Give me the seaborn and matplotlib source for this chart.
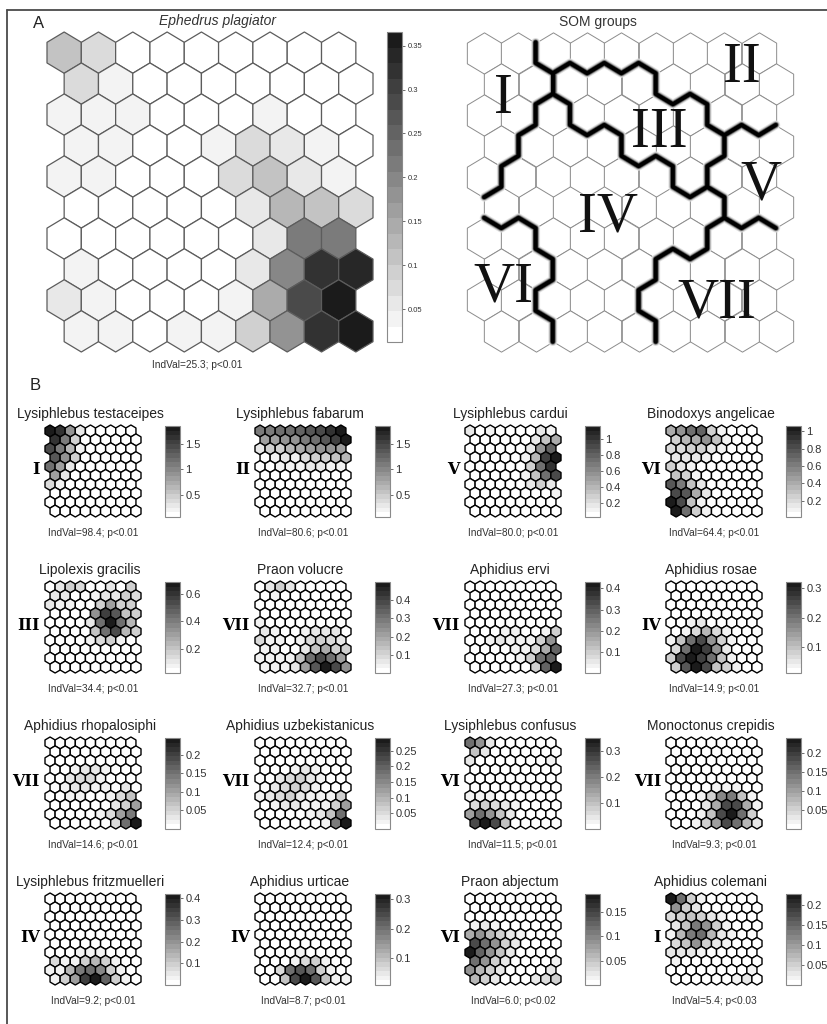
import numpy as np
import pandas as pd
import matplotlib
matplotlib.use("Agg")
import matplotlib.pyplot as plt
from matplotlib.colors import ListedColormap, Normalize
from matplotlib.cm import ScalarMappable
from matplotlib.collections import LineCollection
from matplotlib.lines import Line2D
from matplotlib.path import Path
from matplotlib.markers import MarkerStyle
import seaborn as sns

# ---------------------------------------------------------------- data
# SOM component planes: 10 rows x 9 columns of hexagonal units (odd rows shifted right)

ephedrus_plagiator = [
    [0.11, 0.067, 0, 0, 0, 0, 0, 0, 0],
    [0.08, 0.04, 0, 0, 0, 0, 0, 0, 0],
    [0.04, 0.04, 0.035, 0, 0, 0, 0.035, 0, 0],
    [0.04, 0.04, 0, 0, 0.035, 0.074, 0.061, 0.035, 0],
    [0.04, 0.035, 0, 0, 0, 0.08, 0.105, 0.055, 0.04],
    [0, 0, 0, 0, 0, 0.061, 0.124, 0.105, 0.08],
    [0, 0, 0, 0, 0, 0, 0.048, 0.212, 0.219],
    [0.04, 0, 0, 0, 0, 0.055, 0.193, 0.313, 0.339],
    [0.061, 0.04, 0, 0, 0, 0.04, 0.137, 0.288, 0.36],
    [0.04, 0.035, 0, 0.035, 0.04, 0.086, 0.173, 0.313, 0.36],
]
ephedrus_range = (0.0125, 0.3656)
ephedrus_ticks = [0.05, 0.1, 0.15, 0.2, 0.25, 0.3, 0.35]
ephedrus_indval = "IndVal=25.3; p<0.01"

som_groups = [
    ["I", "I", "II", "II", "II", "II", "II", "II", "II"],
    ["I", "I", "III", "III", "III", "II", "II", "II", "II"],
    ["I", "I", "IV", "III", "III", "III", "III", "II", "II"],
    ["I", "IV", "IV", "IV", "III", "III", "III", "V", "V"],
    ["I", "IV", "IV", "IV", "IV", "IV", "III", "V", "V"],
    ["IV", "IV", "IV", "IV", "IV", "IV", "IV", "V", "V"],
    ["VI", "VI", "IV", "IV", "IV", "IV", "IV", "VII", "VII"],
    ["VI", "VI", "IV", "IV", "IV", "VII", "VII", "VII", "VII"],
    ["VI", "VI", "IV", "IV", "IV", "VII", "VII", "VII", "VII"],
    ["VI", "VI", "IV", "IV", "IV", "VII", "VII", "VII", "VII"],
]
group_names = ["I", "II", "III", "IV", "V", "VI", "VII"]

lysiphlebus_testaceipes = [
    [1.80, 1.62, 0.94, 0.31, 0, 0, 0, 0, 0],
    [1.62, 1.07, 0.49, 0, 0, 0, 0, 0, 0],
    [1.45, 1.12, 0.69, 0.24, 0, 0, 0, 0, 0],
    [1.32, 0.94, 0.43, 0, 0, 0, 0, 0, 0],
    [1.19, 0.81, 0.31, 0, 0, 0, 0, 0, 0],
    [0.81, 0.31, 0, 0, 0, 0, 0, 0, 0],
    [0.37, 0.20, 0, 0, 0, 0, 0, 0, 0],
    [0, 0, 0, 0, 0, 0, 0, 0, 0],
    [0, 0, 0, 0, 0, 0, 0, 0, 0],
    [0, 0, 0, 0, 0, 0, 0, 0, 0],
]
lysiphlebus_fabarum = [
    [1.14, 1.14, 1.21, 1.21, 1.26, 1.33, 1.45, 1.61, 1.80],
    [0.81, 0.81, 0.94, 0.94, 1.07, 1.19, 1.32, 1.58, 1.80],
    [0.31, 0.43, 0.49, 0.63, 0.75, 0.81, 0.94, 0.94, 0.81],
    [0, 0.20, 0.31, 0.24, 0.37, 0.43, 0.49, 0.56, 0.69],
    [0, 0, 0.18, 0.21, 0.24, 0.31, 0.31, 0.24, 0.20],
    [0, 0, 0, 0, 0, 0, 0, 0, 0],
    [0, 0, 0, 0, 0, 0, 0, 0, 0],
    [0, 0, 0, 0, 0, 0, 0, 0, 0],
    [0, 0, 0, 0, 0, 0, 0, 0, 0],
    [0, 0, 0, 0, 0, 0, 0, 0, 0],
]
lysiphlebus_cardui = [
    [0.18, 0, 0.09, 0, 0, 0, 0, 0.14, 0.11],
    [0, 0, 0, 0, 0, 0, 0.14, 0.34, 0.45],
    [0, 0, 0, 0, 0, 0, 0.18, 0.58, 0.82],
    [0, 0, 0, 0, 0, 0.09, 0.42, 0.94, 1.15],
    [0, 0, 0, 0, 0, 0, 0.26, 0.74, 1.01],
    [0, 0, 0, 0, 0, 0.09, 0.34, 0.74, 0.91],
    [0, 0, 0, 0, 0, 0, 0.14, 0.26, 0.14],
    [0, 0, 0, 0, 0, 0, 0, 0, 0.11],
    [0, 0, 0, 0, 0, 0, 0, 0, 0],
    [0, 0, 0, 0, 0, 0, 0, 0, 0],
]
binodoxys_angelicae = [
    [0.40, 0.52, 0.67, 0.70, 0.23, 0.09, 0, 0, 0],
    [0.23, 0.33, 0.40, 0.52, 0.30, 0.08, 0, 0, 0],
    [0.19, 0.19, 0.23, 0.26, 0.16, 0.08, 0, 0, 0],
    [0.16, 0.16, 0.12, 0.08, 0, 0, 0, 0, 0],
    [0.23, 0.16, 0.08, 0, 0, 0, 0, 0, 0],
    [0.30, 0.23, 0.09, 0, 0, 0, 0, 0, 0],
    [0.75, 0.60, 0.30, 0.12, 0, 0, 0, 0, 0],
    [0.82, 0.75, 0.38, 0.12, 0, 0, 0, 0, 0],
    [1.05, 0.82, 0.30, 0.09, 0, 0, 0, 0, 0],
    [1.05, 0.67, 0.26, 0.08, 0, 0, 0, 0, 0],
]
lipolexis_gracilis = [
    [0, 0.09, 0.18, 0.13, 0, 0, 0.09, 0, 0.16],
    [0.11, 0.09, 0, 0, 0.07, 0.09, 0.11, 0.18, 0.13],
    [0.09, 0.07, 0.07, 0, 0, 0.16, 0.30, 0.18, 0.18],
    [0, 0, 0, 0, 0.35, 0.56, 0.49, 0.21, 0.16],
    [0, 0, 0, 0, 0.11, 0.44, 0.69, 0.44, 0.25],
    [0, 0, 0, 0, 0.21, 0.44, 0.54, 0.25, 0.16],
    [0, 0, 0, 0, 0.07, 0.13, 0.16, 0.07, 0],
    [0, 0, 0, 0, 0, 0, 0, 0, 0],
    [0, 0, 0, 0, 0, 0, 0, 0, 0],
    [0, 0, 0, 0, 0, 0, 0, 0, 0],
]
praon_volucre = [
    [0, 0.05, 0.10, 0.07, 0, 0, 0, 0, 0],
    [0, 0.03, 0, 0, 0, 0, 0, 0, 0],
    [0, 0, 0, 0, 0, 0, 0, 0, 0],
    [0, 0, 0, 0, 0, 0, 0, 0, 0],
    [0.04, 0, 0, 0, 0, 0, 0, 0, 0],
    [0.05, 0.04, 0, 0, 0.04, 0.05, 0.07, 0.05, 0],
    [0.085, 0.04, 0.04, 0, 0.04, 0.085, 0.10, 0.085, 0.07],
    [0.04, 0.03, 0, 0, 0.07, 0.14, 0.175, 0.12, 0.10],
    [0.04, 0.04, 0.03, 0.03, 0.14, 0.31, 0.385, 0.31, 0.21],
    [0.04, 0.03, 0.03, 0.05, 0.21, 0.35, 0.48, 0.385, 0.245],
]
aphidius_ervi = [
    [0, 0, 0, 0, 0, 0, 0, 0, 0],
    [0, 0, 0, 0, 0, 0, 0, 0, 0],
    [0, 0, 0, 0, 0, 0, 0, 0, 0],
    [0, 0, 0, 0, 0, 0, 0, 0, 0],
    [0, 0, 0, 0, 0, 0, 0, 0, 0],
    [0, 0, 0, 0.03, 0.03, 0, 0, 0.04, 0.10],
    [0, 0, 0.03, 0.06, 0.03, 0.04, 0.04, 0.10, 0.21],
    [0, 0, 0, 0.02, 0.03, 0.04, 0.07, 0.16, 0.30],
    [0, 0, 0, 0, 0.02, 0.03, 0.09, 0.27, 0.29],
    [0, 0, 0, 0, 0, 0.02, 0.09, 0.30, 0.43],
]
aphidius_rosae = [
    [0, 0, 0, 0, 0, 0, 0, 0, 0],
    [0, 0, 0, 0, 0, 0, 0, 0, 0],
    [0, 0, 0, 0, 0, 0, 0, 0, 0],
    [0, 0, 0, 0, 0, 0, 0, 0, 0],
    [0, 0, 0.033, 0.044, 0, 0, 0, 0, 0],
    [0, 0.036, 0.065, 0.12, 0.065, 0.036, 0, 0, 0],
    [0.036, 0.10, 0.206, 0.25, 0.163, 0.077, 0.036, 0, 0],
    [0.065, 0.206, 0.32, 0.26, 0.163, 0.056, 0, 0, 0],
    [0.087, 0.25, 0.32, 0.26, 0.206, 0.10, 0.036, 0, 0],
    [0.087, 0.228, 0.32, 0.25, 0.10, 0.087, 0.036, 0, 0],
]
aphidius_rhopalosiphi = [
    [0, 0, 0, 0, 0, 0, 0, 0, 0],
    [0, 0, 0, 0, 0, 0, 0, 0, 0],
    [0, 0, 0, 0, 0, 0, 0, 0, 0],
    [0, 0, 0.02, 0.03, 0.03, 0.02, 0, 0, 0],
    [0, 0, 0.03, 0.04, 0.04, 0.02, 0, 0, 0],
    [0, 0.02, 0.03, 0.03, 0.02, 0.02, 0, 0.03, 0],
    [0, 0, 0.02, 0.02, 0, 0, 0.02, 0.04, 0.07],
    [0, 0, 0, 0, 0, 0, 0.03, 0.06, 0.10],
    [0, 0, 0, 0, 0, 0.02, 0.04, 0.10, 0.14],
    [0, 0, 0, 0, 0, 0, 0.04, 0.15, 0.24],
]
aphidius_uzbekistanicus = [
    [0, 0, 0, 0, 0, 0, 0, 0, 0],
    [0, 0, 0, 0, 0, 0, 0, 0, 0],
    [0, 0, 0, 0, 0, 0, 0, 0, 0],
    [0, 0, 0, 0.02, 0.03, 0.02, 0, 0, 0],
    [0, 0, 0.03, 0.05, 0.06, 0.04, 0.02, 0, 0],
    [0, 0.03, 0.05, 0.07, 0.05, 0.02, 0, 0, 0],
    [0.02, 0.04, 0.05, 0.06, 0.04, 0.02, 0.02, 0.02, 0.06],
    [0, 0.02, 0.03, 0.03, 0.02, 0.02, 0.02, 0.06, 0.12],
    [0, 0, 0, 0, 0, 0.02, 0.03, 0.08, 0.18],
    [0, 0, 0, 0, 0, 0, 0.02, 0.17, 0.29],
]
lysiphlebus_confusus = [
    [0.22, 0.17, 0.05, 0, 0, 0, 0, 0, 0],
    [0.10, 0.05, 0, 0, 0, 0, 0, 0, 0],
    [0.035, 0, 0, 0, 0, 0, 0, 0, 0.03],
    [0, 0, 0, 0, 0, 0, 0, 0, 0],
    [0, 0, 0, 0, 0, 0, 0, 0, 0],
    [0, 0, 0, 0, 0, 0, 0, 0, 0],
    [0.026, 0.03, 0.026, 0, 0, 0, 0, 0, 0],
    [0.06, 0.07, 0.06, 0.035, 0.026, 0, 0, 0, 0],
    [0.15, 0.22, 0.17, 0.10, 0.035, 0, 0, 0, 0],
    [0.27, 0.35, 0.27, 0.10, 0, 0, 0, 0, 0],
]
monoctonus_crepidis = [
    [0, 0, 0, 0, 0, 0, 0, 0, 0],
    [0, 0, 0, 0, 0, 0, 0, 0, 0],
    [0, 0, 0, 0, 0, 0, 0, 0, 0],
    [0, 0, 0, 0, 0, 0, 0, 0, 0],
    [0, 0, 0, 0, 0, 0, 0, 0, 0],
    [0, 0, 0, 0, 0.018, 0.018, 0.018, 0, 0],
    [0, 0, 0, 0.018, 0.05, 0.12, 0.135, 0.067, 0.018],
    [0, 0, 0, 0.034, 0.084, 0.19, 0.185, 0.084, 0.018],
    [0, 0, 0, 0.018, 0.067, 0.19, 0.24, 0.15, 0.05],
    [0, 0, 0.018, 0.05, 0.10, 0.185, 0.15, 0.072, 0.024],
]
lysiphlebus_fritzmuelleri = [
    [0, 0, 0, 0, 0, 0, 0, 0, 0],
    [0, 0, 0, 0, 0, 0, 0, 0, 0],
    [0, 0, 0, 0, 0, 0, 0, 0, 0],
    [0, 0, 0, 0, 0, 0, 0, 0, 0],
    [0, 0, 0, 0, 0, 0, 0, 0, 0],
    [0, 0, 0, 0, 0, 0, 0, 0, 0],
    [0, 0, 0, 0.03, 0.04, 0.03, 0, 0, 0],
    [0.07, 0.03, 0.04, 0.09, 0.13, 0.10, 0.04, 0, 0],
    [0.03, 0.04, 0.13, 0.235, 0.265, 0.21, 0.10, 0.03, 0],
    [0.03, 0.09, 0.18, 0.34, 0.42, 0.29, 0.09, 0.03, 0],
]
aphidius_urticae = [
    [0, 0, 0, 0, 0, 0, 0, 0, 0],
    [0, 0, 0, 0, 0, 0, 0, 0, 0],
    [0, 0, 0, 0, 0, 0, 0, 0, 0],
    [0, 0, 0, 0, 0, 0, 0, 0, 0],
    [0, 0, 0, 0, 0, 0, 0, 0, 0],
    [0, 0, 0, 0, 0, 0, 0, 0, 0],
    [0, 0, 0, 0, 0.033, 0, 0, 0, 0],
    [0, 0, 0, 0.033, 0.062, 0.084, 0.04, 0, 0],
    [0, 0, 0.062, 0.20, 0.23, 0.20, 0.084, 0.033, 0],
    [0, 0, 0.096, 0.246, 0.317, 0.225, 0.096, 0.04, 0.033],
]
praon_abjectum = [
    [0, 0, 0, 0, 0, 0, 0, 0, 0],
    [0, 0, 0, 0, 0, 0, 0, 0, 0],
    [0, 0, 0, 0, 0, 0, 0, 0, 0],
    [0.014, 0.019, 0.014, 0, 0, 0, 0, 0, 0],
    [0.069, 0.091, 0.065, 0.045, 0.026, 0.014, 0, 0, 0],
    [0.143, 0.117, 0.091, 0.045, 0.019, 0, 0, 0, 0],
    [0.186, 0.13, 0.091, 0.052, 0.019, 0, 0, 0, 0],
    [0.117, 0.091, 0.045, 0.026, 0, 0, 0, 0, 0.014],
    [0.091, 0.065, 0.045, 0.026, 0, 0, 0, 0, 0.019],
    [0.065, 0.045, 0.026, 0, 0, 0, 0.026, 0.032, 0.045],
]
aphidius_colemani = [
    [0.227, 0.143, 0.048, 0.017, 0, 0, 0, 0, 0],
    [0.111, 0.054, 0.023, 0, 0, 0, 0, 0, 0],
    [0.039, 0.054, 0.068, 0.048, 0.023, 0.017, 0, 0, 0],
    [0.032, 0.064, 0.127, 0.111, 0.054, 0.017, 0, 0, 0],
    [0.017, 0.079, 0.127, 0.143, 0.079, 0.032, 0.017, 0, 0],
    [0.039, 0.064, 0.111, 0.054, 0.023, 0.017, 0, 0, 0],
    [0.032, 0.023, 0.032, 0.017, 0, 0, 0, 0, 0],
    [0.017, 0, 0, 0, 0, 0, 0, 0, 0],
    [0, 0, 0, 0, 0, 0, 0, 0, 0.017],
    [0, 0, 0, 0, 0, 0, 0.017, 0.023, 0],
]

species_names = [
    "Lysiphlebus testaceipes", "Lysiphlebus fabarum", "Lysiphlebus cardui", "Binodoxys angelicae",
    "Lipolexis gracilis", "Praon volucre", "Aphidius ervi", "Aphidius rosae",
    "Aphidius rhopalosiphi", "Aphidius uzbekistanicus", "Lysiphlebus confusus", "Monoctonus crepidis",
    "Lysiphlebus fritzmuelleri", "Aphidius urticae", "Praon abjectum", "Aphidius colemani",
]
species_planes = [
    lysiphlebus_testaceipes, lysiphlebus_fabarum, lysiphlebus_cardui, binodoxys_angelicae,
    lipolexis_gracilis, praon_volucre, aphidius_ervi, aphidius_rosae,
    aphidius_rhopalosiphi, aphidius_uzbekistanicus, lysiphlebus_confusus, monoctonus_crepidis,
    lysiphlebus_fritzmuelleri, aphidius_urticae, praon_abjectum, aphidius_colemani,
]
species_group = ["I", "II", "V", "VI", "III", "VII", "VII", "IV",
                 "VII", "VII", "VI", "VII", "IV", "IV", "VI", "I"]
indval = [98.4, 80.6, 80.0, 64.4, 34.4, 32.7, 27.3, 14.9,
          14.6, 12.4, 11.5, 9.3, 9.2, 8.7, 6.0, 5.4]
p_values = ["0.01"] * 14 + ["0.02", "0.03"]
scale_min = [0.06, 0.06, 0.02, 0.01, 0.02, 0.0, 0.0, 0.013,
             0.0, 0.0, 0.0, 0.0, 0.0, 0.01, 0.0, 0.0]
scale_max = [1.86, 1.86, 1.17, 1.06, 0.69, 0.50, 0.43, 0.32,
             0.245, 0.29, 0.35, 0.24, 0.42, 0.317, 0.186, 0.227]
scale_ticks = [
    [0.5, 1, 1.5], [0.5, 1, 1.5], [0.2, 0.4, 0.6, 0.8, 1], [0.2, 0.4, 0.6, 0.8, 1],
    [0.2, 0.4, 0.6], [0.1, 0.2, 0.3, 0.4], [0.1, 0.2, 0.3, 0.4], [0.1, 0.2, 0.3],
    [0.05, 0.1, 0.15, 0.2], [0.05, 0.1, 0.15, 0.2, 0.25], [0.1, 0.2, 0.3], [0.05, 0.1, 0.15, 0.2],
    [0.1, 0.2, 0.3, 0.4], [0.1, 0.2, 0.3], [0.05, 0.1, 0.15], [0.05, 0.1, 0.15, 0.2],
]

# ---------------------------------------------------------------- style
sns.set_theme(style="white")
plt.rcParams["font.family"] = ["Liberation Sans", "DejaVu Sans"]

W_PX, H_PX, DPI = 827, 1024, 100
NROWS, NCOLS = 10, 9
R = 1 / np.sqrt(3)
DY = 1.5 * R

grey_cmap = ListedColormap(sns.blend_palette(["#ffffff", "#1b1b1b"], 20))

fig = plt.figure(figsize=(W_PX / DPI, H_PX / DPI), dpi=DPI, facecolor="white")


def px_axes(left, top, width, height):
    return fig.add_axes([left / W_PX, 1 - (top + height) / H_PX, width / W_PX, height / H_PX])


def fig_text(x, y, s, **kw):
    fig.text(x / W_PX, 1 - y / H_PX, s, **kw)


def unit_table():
    rows, cols = np.meshgrid(np.arange(NROWS), np.arange(NCOLS), indexing="ij")
    return pd.DataFrame({
        "row": rows.ravel(), "col": cols.ravel(),
        "x": (cols + 0.5 * (rows % 2)).ravel(), "y": (rows * DY).ravel(),
    })


def hex_plane(left, top, width, height, values=None, vmin=0, vmax=1,
              edgecolor="black", lw=1.0):
    ax = px_axes(left, top, width, height)
    df = unit_table()
    sx = width / (NCOLS + 0.5)
    sy = height / (DY * (NROWS - 1) + 2 * R)
    half_w, rad = 0.5 * sx, R * sy
    a = half_w / rad
    verts = [(0, 1), (a, 0.5), (a, -0.5), (0, -1), (-a, -0.5), (-a, 0.5), (0, 1)]
    codes = [Path.MOVETO] + [Path.LINETO] * 5 + [Path.CLOSEPOLY]
    hexagon = MarkerStyle(Path(verts, codes))
    size_pt = 2 * rad * max(1.0, a) * 72 / DPI
    kw = dict(x="x", y="y", marker=hexagon, s=size_pt ** 2, edgecolor=edgecolor,
              linewidth=lw, legend=False, ax=ax, clip_on=False)
    if values is None:
        sns.scatterplot(data=df, color="white", **kw)
    else:
        df["v"] = np.asarray(values, float).ravel()
        sns.scatterplot(data=df, hue="v", palette=grey_cmap, hue_norm=(vmin, vmax), **kw)
    ax.set_xlim(-0.5, NCOLS)
    ax.set_ylim(DY * (NROWS - 1) + R, -R)
    ax.set_axis_off()
    return ax


def scale_bar(left, top, width, height, vmin, vmax, ticks, fontsize):
    cax = px_axes(left, top, width, height)
    sm = ScalarMappable(norm=Normalize(vmin, vmax), cmap=grey_cmap)
    cb = fig.colorbar(sm, cax=cax)
    cb.set_ticks(ticks)
    cb.set_ticklabels(["%g" % t for t in ticks])
    cb.ax.tick_params(labelsize=fontsize, length=2, width=0.5, pad=2,
                      colors="#333333", direction="out")
    cb.outline.set_edgecolor("#8a8a8a")
    cb.outline.set_linewidth(0.8)
    return cb


def vertex(r, c, name):
    cx, cy = c + 0.5 * (r % 2), r * DY
    return {"UR": (cx + 0.5, cy - R / 2), "LR": (cx + 0.5, cy + R / 2),
            "B": (cx, cy + R), "LL": (cx - 0.5, cy + R / 2)}[name]


def group_borders(groups):
    segs = []
    for r in range(NROWS):
        for c in range(NCOLS):
            g = groups[r][c]
            if c + 1 < NCOLS and groups[r][c + 1] != g:
                segs.append((vertex(r, c, "UR"), vertex(r, c, "LR")))
            if r + 1 < NROWS:
                ll, lr = (c - 1, c) if r % 2 == 0 else (c, c + 1)
                if 0 <= ll < NCOLS and groups[r + 1][ll] != g:
                    segs.append((vertex(r, c, "LL"), vertex(r, c, "B")))
                if 0 <= lr < NCOLS and groups[r + 1][lr] != g:
                    segs.append((vertex(r, c, "B"), vertex(r, c, "LR")))
    # join the edges into continuous polylines
    key = lambda p: (round(p[0], 5), round(p[1], 5))
    adj = {}
    for p, q in segs:
        adj.setdefault(key(p), []).append(key(q))
        adj.setdefault(key(q), []).append(key(p))
    used, lines = set(), []
    starts = [k for k, n in adj.items() if len(n) != 2] + list(adj)
    for s in starts:
        for n in adj[s]:
            e = frozenset((s, n))
            if e in used:
                continue
            used.add(e)
            path, prev, cur = [s, n], s, n
            while len(adj[cur]) == 2:
                nxt = adj[cur][0] if adj[cur][1] == prev else adj[cur][1]
                e = frozenset((cur, nxt))
                if e in used:
                    break
                used.add(e)
                path.append(nxt)
                prev, cur = cur, nxt
            lines.append(path)
    return lines


# ---------------------------------------------------------------- frame
fig.add_artist(Line2D([7 / W_PX, 1.0], [1 - 10 / H_PX] * 2, transform=fig.transFigure,
                      color="#4a4a4a", lw=1.3))
fig.add_artist(Line2D([7 / W_PX] * 2, [1 - 10 / H_PX, 0.0], transform=fig.transFigure,
                      color="#4a4a4a", lw=1.3))

# ---------------------------------------------------------------- panel A
fig_text(33, 23, "A", fontsize=12, ha="left", va="center", color="#222222")
fig_text(218, 21, "Ephedrus plagiator", fontsize=10, style="italic",
         ha="center", va="center", color="#333333")
hex_plane(47, 32, 326, 320, ephedrus_plagiator, *ephedrus_range,
          edgecolor="#5c5c5c", lw=0.9)
scale_bar(387, 32, 15, 310, *ephedrus_range, ephedrus_ticks, 5.5)
fig_text(197, 365, ephedrus_indval, fontsize=7.3, ha="center", va="center", color="#333333")

fig_text(598, 22, "SOM groups", fontsize=10, ha="center", va="center", color="#333333")
ax_som = hex_plane(467, 32, 326, 320, None, edgecolor="#8c8c8c", lw=0.7)
borders = group_borders(som_groups)
for lw, col in [(6.4, "#e2e2e2"), (5.0, "#a8a8a8"), (3.8, "#474747"), (2.8, "#000000")]:
    ax_som.add_collection(LineCollection(borders, linewidths=lw, colors=col,
                                         capstyle="round", joinstyle="round",
                                         zorder=4, clip_on=False))
numeral_baseline = {"I": (503, 113), "II": (742, 82), "III": (659, 147), "IV": (608, 232),
                    "V": (761, 200), "VI": (503, 302), "VII": (717, 318)}
for g in group_names:
    x, y = numeral_baseline[g]
    fig_text(x, y, g, fontsize=41, family="Liberation Serif", ha="center",
             va="baseline", color="#111111", zorder=6)

# ---------------------------------------------------------------- panel B
fig_text(30, 385, "B", fontsize=12, ha="left", va="center", color="#222222")
map_left = [45, 255, 465, 666]
bar_left = [165, 375, 585, 786]
map_top = [425, 581, 737, 893]
MAP_W, MAP_H = 96, 92

for i, name in enumerate(species_names):
    row, col = divmod(i, 4)
    L, T = map_left[col], map_top[row]
    fig_text(L + MAP_W / 2 - 3, T - 7, name, fontsize=10, ha="center",
             va="baseline", color="#222222")
    hex_plane(L, T, MAP_W, MAP_H, species_planes[i], scale_min[i], scale_max[i],
              edgecolor="black", lw=1.0)
    scale_bar(bar_left[col], T + 1, 15, MAP_H - 1, scale_min[i], scale_max[i],
              scale_ticks[i], 8)
    fig_text(L - 5, T + 44, species_group[i], fontsize=11.5, family="DejaVu Serif",
             fontweight="bold", ha="right", va="center", color="black")
    fig_text(L + MAP_W / 2, T + MAP_H + 16, "IndVal=%.1f; p<%s" % (indval[i], p_values[i]),
             fontsize=7.3, ha="center", va="center", color="#333333")

fig.savefig("out.png", dpi=DPI, facecolor="white")
